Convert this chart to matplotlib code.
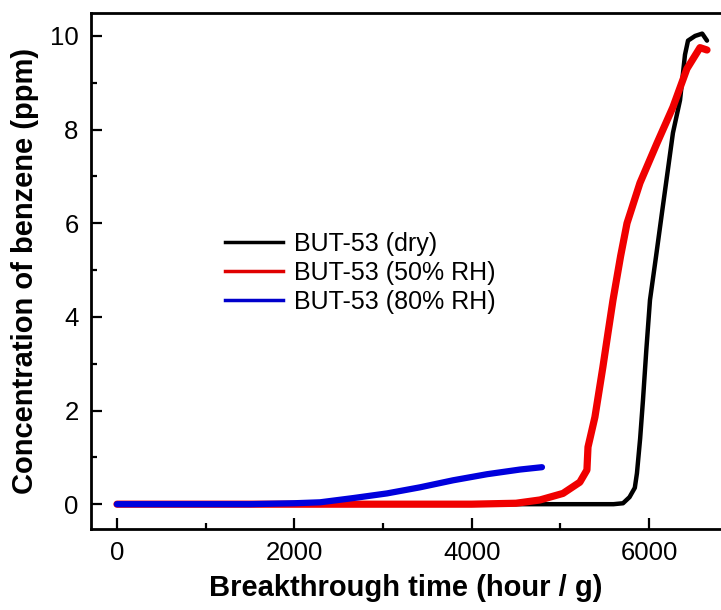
import matplotlib
matplotlib.use("Agg")
import matplotlib.pyplot as plt
from matplotlib.ticker import MultipleLocator
from matplotlib.lines import Line2D

plt.rcParams["font.family"] = ["Liberation Sans", "DejaVu Sans"]

# breakthrough curves (x: hour/g, y: ppm)
dry_x = [0, 1000, 2000, 3000, 4000, 5000, 5600, 5707, 5780, 5840, 5864, 5900,
         5932, 5970, 6011, 6080, 6146, 6210, 6270, 6350, 6406, 6440, 6520, 6600, 6654]
dry_y = [0, 0, 0, 0, 0, 0, 0, 0.02, 0.15, 0.35, 0.66, 1.4,
         2.22, 3.3, 4.36, 5.3, 6.22, 7.1, 7.93, 8.63, 9.6, 9.9, 10.0, 10.05, 9.9]

rh50_x = [0, 1000, 2000, 3000, 4000, 4500, 4770, 5030, 5220, 5300, 5312, 5390,
          5480, 5537, 5594, 5680, 5752, 5898, 6090, 6270, 6428, 6575, 6654]
rh50_y = [0, 0, 0, 0, 0, 0.02, 0.09, 0.23, 0.47, 0.73, 1.22, 1.86,
          2.93, 3.65, 4.36, 5.3, 6.0, 6.86, 7.71, 8.48, 9.3, 9.75, 9.7]

rh80_x = [0, 500, 1000, 1500, 2000, 2290, 2662, 3045, 3417, 3790, 4173, 4545, 4793]
rh80_y = [0, 0, 0, 0, 0.02, 0.04, 0.13, 0.23, 0.36, 0.51, 0.64, 0.74, 0.79]

labels = ["BUT-53 (dry)", "BUT-53 (50% RH)", "BUT-53 (80% RH)"]

fig = plt.figure(figsize=(7.21, 6.10), dpi=100)
ax = fig.add_axes([91 / 721, 81 / 610, 630 / 721, 516 / 610])

ax.plot(dry_x, dry_y, color="black", lw=3.2, solid_capstyle="round", solid_joinstyle="round")
ax.plot(rh50_x, rh50_y, color="#f00000", lw=5.2, solid_capstyle="round", solid_joinstyle="round")
ax.plot(rh80_x, rh80_y, color="#0000dd", lw=4.5, solid_capstyle="round", solid_joinstyle="round")

ax.set_xlim(-293, 6812)
ax.set_ylim(-0.53, 10.49)
ax.xaxis.set_major_locator(MultipleLocator(2000))
ax.xaxis.set_minor_locator(MultipleLocator(1000))
ax.yaxis.set_major_locator(MultipleLocator(2))
ax.yaxis.set_minor_locator(MultipleLocator(1))

for s in ["left", "bottom", "top"]:
    ax.spines[s].set_linewidth(2)
ax.spines["right"].set_visible(False)

ax.tick_params(which="both", direction="in", width=1.6, top=False, right=False)
ax.tick_params(which="major", length=8, labelsize=18.5, pad=9)
ax.tick_params(which="minor", length=4)

ax.set_xlabel("Breakthrough time (hour / g)", fontsize=21, fontweight="bold", labelpad=6)
ax.set_ylabel("Concentration of benzene (ppm)", fontsize=21, fontweight="bold", labelpad=8)

handles = [Line2D([], [], color="black", lw=2.5),
           Line2D([], [], color="#e00000", lw=2.5),
           Line2D([], [], color="#0000cc", lw=2.5)]
ax.legend(handles, labels, loc="center left", bbox_to_anchor=(0.213, 0.496),
          frameon=False, fontsize=18, handlelength=2.3, handletextpad=0.45,
          labelspacing=0.2, borderpad=0, borderaxespad=0)

fig.savefig("out.png", dpi=100)
